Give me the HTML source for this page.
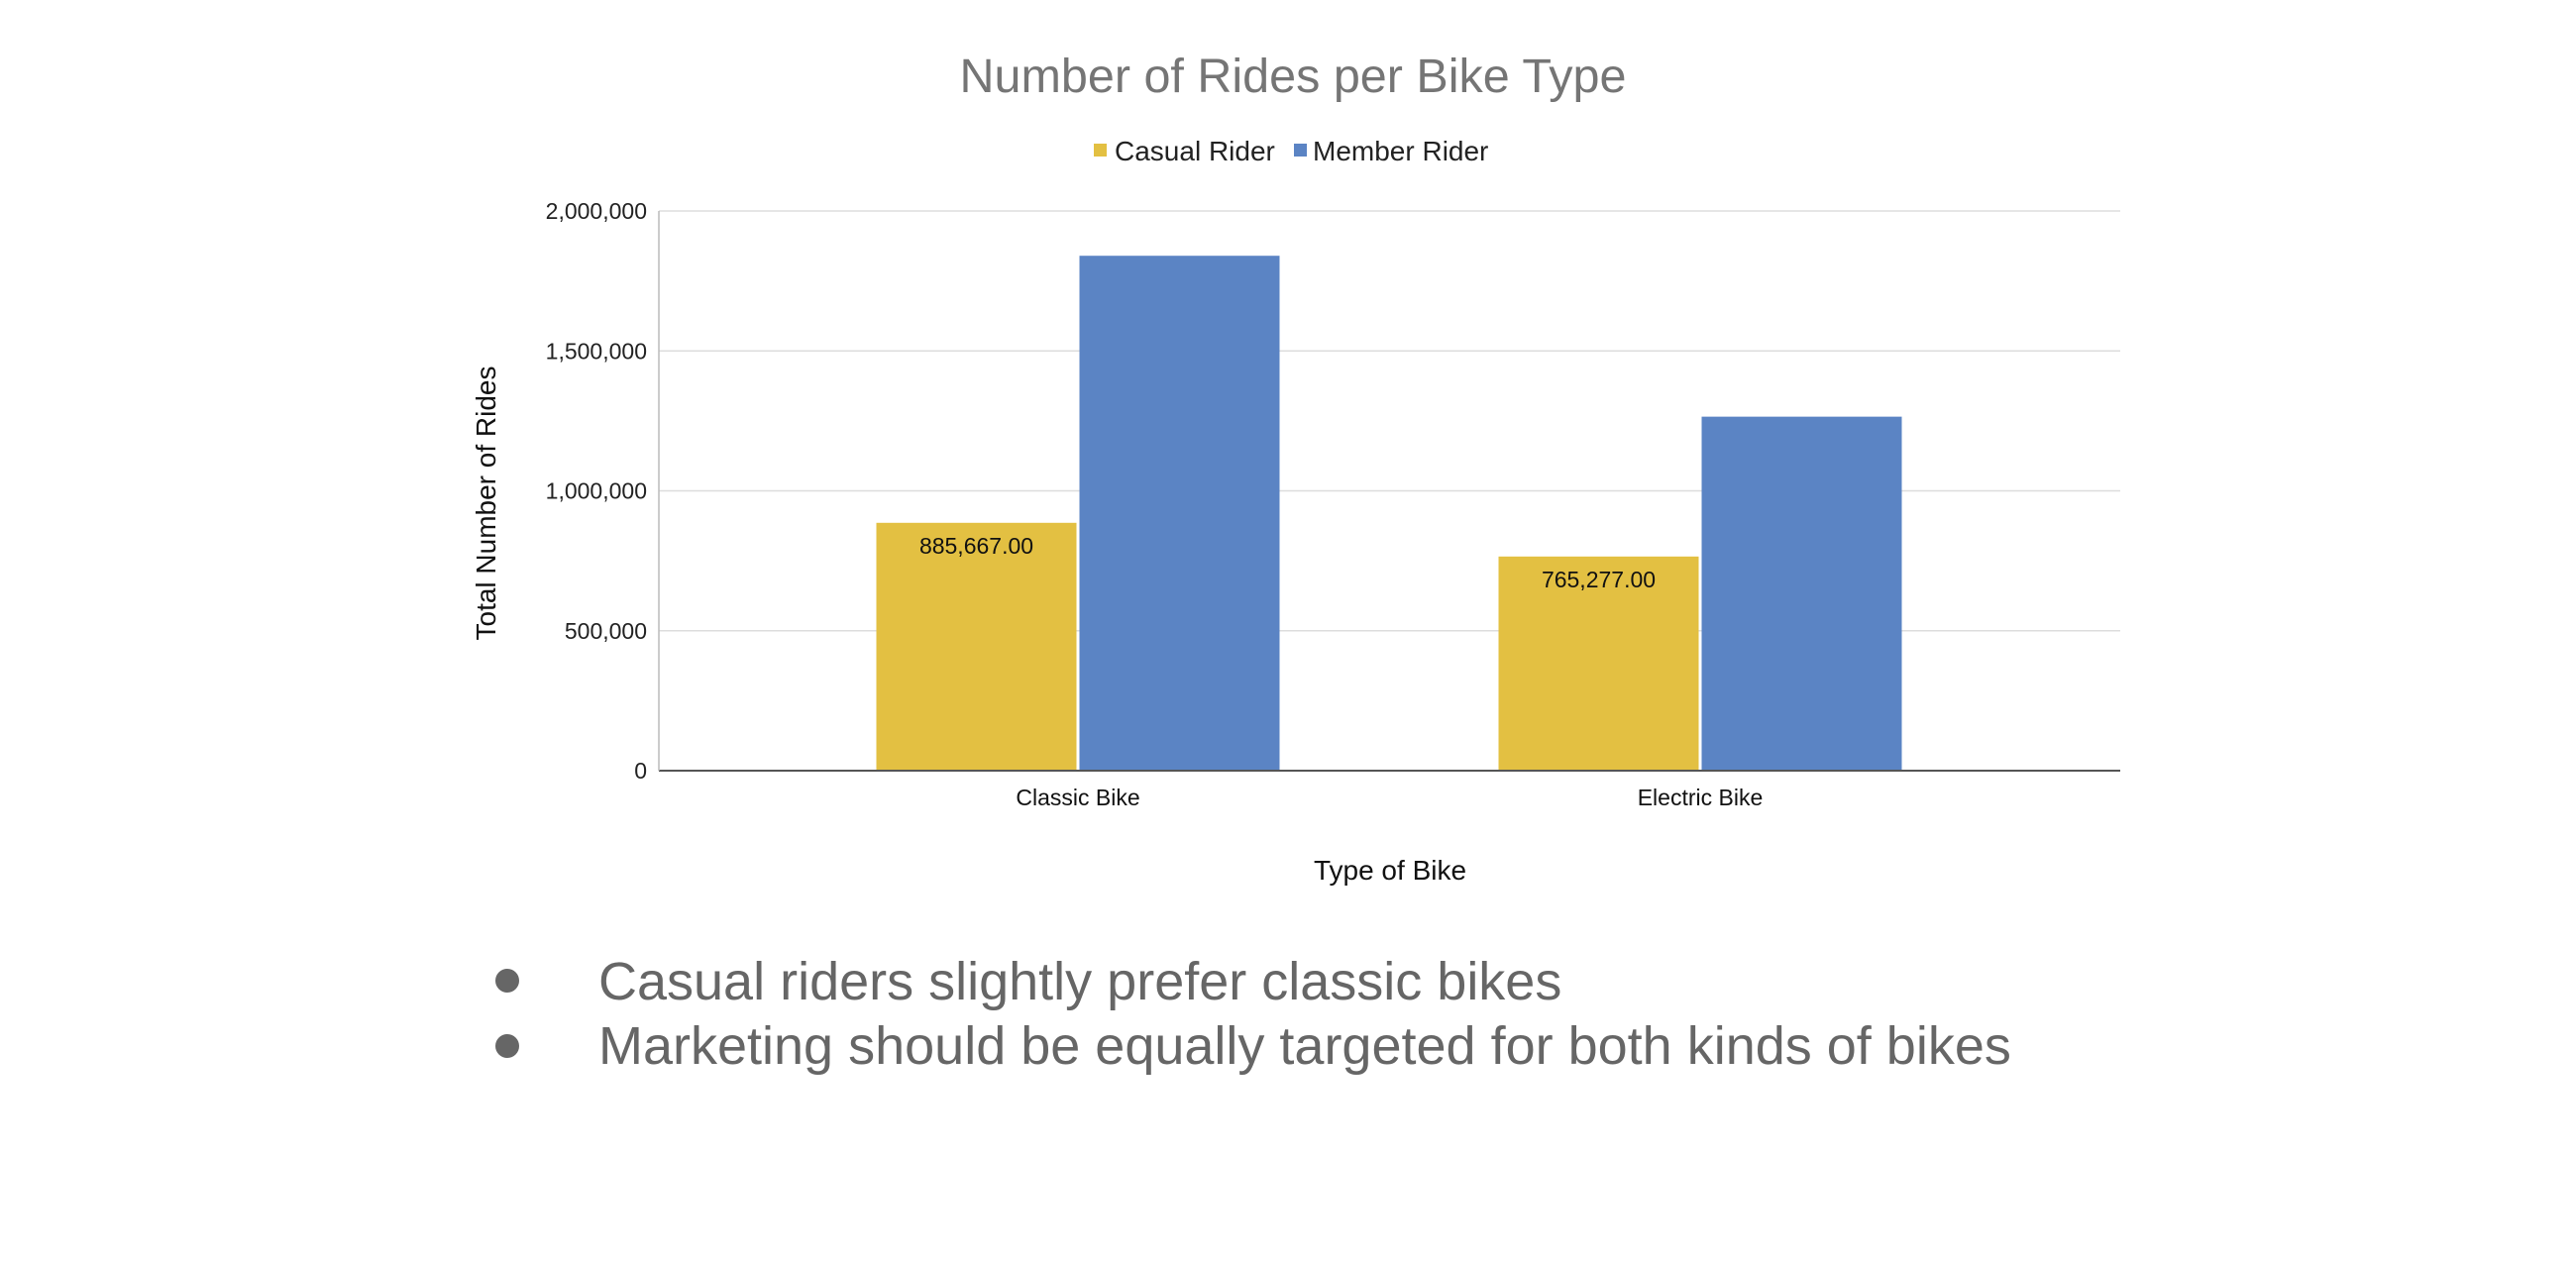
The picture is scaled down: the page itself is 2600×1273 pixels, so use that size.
<!DOCTYPE html>
<html><head><meta charset="utf-8">
<style>
html,body{margin:0;padding:0;background:#fff;}
body{width:2600px;height:1268px;overflow:hidden;font-family:"Liberation Sans",Arial,sans-serif;}
svg text{font-family:"Liberation Sans",Arial,sans-serif;}
</style></head>
<body>
<svg id="chart" width="2600" height="1268" viewBox="0 0 2600 1268" xmlns="http://www.w3.org/2000/svg">
  <text x="1305" y="93" text-anchor="middle" font-size="48.5" fill="#757575">Number of Rides per Bike Type</text>
  <g>
    <rect x="1104" y="145" width="13" height="13" fill="#e3c042"/>
    <text x="1125" y="162" font-size="28" fill="#222">Casual Rider</text>
    <rect x="1306" y="145" width="13" height="13" fill="#5b84c4"/>
    <text x="1325" y="162" font-size="28" fill="#222">Member Rider</text>
  </g>
  <g id="grid"></g>
  <g id="yticks"></g>
  <g id="bars"></g>
  <g id="xticks"></g>
  <line x1="665" y1="778" x2="2140" y2="778" stroke="#555" stroke-width="2"/>
  <line x1="665" y1="213" x2="665" y2="778" stroke="#bbb" stroke-width="1.5"/>
  <text x="1403" y="888" text-anchor="middle" font-size="28" fill="#111">Type of Bike</text>
  <text transform="translate(500,508) rotate(-90)" text-anchor="middle" font-size="28" fill="#111">Total Number of Rides</text>
  <g font-size="54" fill="#666">
    <circle cx="512" cy="990" r="12" fill="#666"/>
    <text x="604" y="1009">Casual riders slightly prefer classic bikes</text>
    <circle cx="512" cy="1056" r="12" fill="#666"/>
    <text x="604" y="1074">Marketing should be equally targeted for both kinds of bikes</text>
  </g>
</svg>
<script>
const categories = ["Classic Bike", "Electric Bike"];
const casualValues = [885667, 765277];
const memberValues = [1840000, 1265000];
const yTickValues = [0, 500000, 1000000, 1500000, 2000000];
const yTickLabels = ["0", "500,000", "1,000,000", "1,500,000", "2,000,000"];
const casualLabels = ["885,667.00", "765,277.00"];

const NS = "http://www.w3.org/2000/svg";
const y0 = 778, y1 = 213, yMax = 2000000;
function yScale(v){ return y0 - (v / yMax) * (y0 - y1); }
function xCenter(i){ return 1088 + i * 628; }
const barW = 202, gap = 3;

function mk(tag, attrs){ const e = document.createElementNS(NS, tag); for (const k in attrs) e.setAttribute(k, attrs[k]); return e; }

const grid = document.getElementById('grid');
const yt = document.getElementById('yticks');
yTickValues.forEach((v, i) => {
  const y = yScale(v);
  if (v > 0) {
    const l = mk('line', {x1: 665, x2: 2140, y1: y, y2: y, stroke: '#ddd', 'stroke-width': 1.5});
    
    
    grid.appendChild(l);
  }
  const t = mk('text', {x: 653, y: y + 8, 'text-anchor': 'end', 'font-size': 23, fill: '#222'});
  
  
  t.textContent = yTickLabels[i];
  yt.appendChild(t);
});

const bars = document.getElementById('bars');
const xt = document.getElementById('xticks');
categories.forEach((c, i) => {
  const cx = xCenter(i);
  const yc = yScale(casualValues[i]);
  const rc = mk('rect', {x: cx - barW - gap/2, y: yc, width: barW, height: y0 - yc, fill: '#e3c042'});
  
  
  bars.appendChild(rc);
  const ym = yScale(memberValues[i]);
  const rm = mk('rect', {x: cx + gap/2, y: ym, width: barW, height: y0 - ym, fill: '#5b84c4'});
  
  
  bars.appendChild(rm);
  const lbl = mk('text', {x: cx - barW/2 - gap/2, y: yc + 31, 'text-anchor': 'middle', 'font-size': 23, fill: '#111'});
  
  
  lbl.textContent = casualLabels[i];
  bars.appendChild(lbl);
  const t = mk('text', {x: cx, y: 813, 'text-anchor': 'middle', 'font-size': 23, fill: '#111'});
  
  
  t.textContent = c;
  xt.appendChild(t);
});
</script>
</body></html>
